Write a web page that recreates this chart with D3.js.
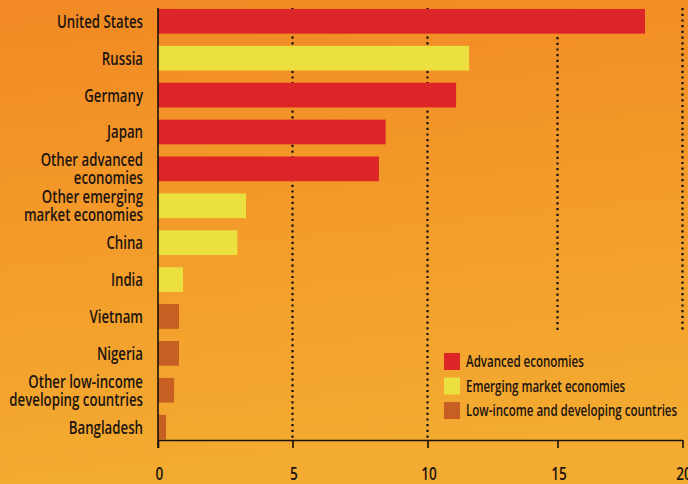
<!DOCTYPE html>
<html><head><meta charset="utf-8">
<script src="https://cdn.jsdelivr.net/npm/d3@7"></script>
<style>
html,body{margin:0;padding:0;background:#f29a2b;}
svg{display:block;}
text{font-family:"Open Sans","DejaVu Sans Condensed",sans-serif;font-weight:600;fill:#1c1410;}
</style></head>
<body>
<script>
const categories = ["United States","Russia","Germany","Japan","Other advanced\neconomies","Other emerging\nmarket economies","China","India","Vietnam","Nigeria","Other low-income\ndeveloping countries","Bangladesh"];
const values = [18.5, 11.6, 11.1, 8.45, 8.2, 3.27, 2.95, 0.93, 0.78, 0.78, 0.6, 0.3];
const groups = [0,1,0,0,0,1,1,1,2,2,2,2];
const groupNames = ["Advanced economies","Emerging market economies","Low-income and developing countries"];
const groupColors = ["#dd2427","#ebe03f","#c65f21"];
const xTicks = [0,5,10,15,20];

const W = 688, H = 484;
const svg = d3.select("body").append("svg").attr("width", W).attr("height", H);

// background
const defs = svg.append("defs");
const lg = defs.append("linearGradient").attr("id","bg").attr("x1",0).attr("y1",0).attr("x2",0.15).attr("y2",1);
lg.append("stop").attr("offset",0).attr("stop-color","#f18924");
lg.append("stop").attr("offset",0.5).attr("stop-color","#f39b2a");
lg.append("stop").attr("offset",1).attr("stop-color","#f3ab31");
svg.append("rect").attr("width",W).attr("height",H).attr("fill","url(#bg)");

const x = d3.scaleLinear().domain(xTicks).range([158, 292.5, 427.5, 557.5, 682.5]);
const y = d3.scaleBand().domain(d3.range(categories.length)).range([2.85, 445.6]).paddingInner(0.33).paddingOuter(0.165);

// measure helper for horizontal condensing
function measure(str, size){
  const t = svg.append("text").attr("font-size",size).text(str);
  const w = t.node().getComputedTextLength(); t.remove(); return w;
}
const labelSize = 18, tickSize = 18.5, legendSize = 16;
const sLab = 86 / measure("United States", labelSize);
const sLeg = 118 / measure("Advanced economies", legendSize);

// dotted grid lines
const gridSpec = [[5,8,440],[10,8,440],[15,37,331],[20,8,331]];
svg.append("g").selectAll("line").data(gridSpec).join("line")
  .attr("x1",d=>x(d[0])).attr("x2",d=>x(d[0]))
  .attr("y1",d=>d[1]).attr("y2",d=>d[2])
  .attr("stroke","#111").attr("stroke-width",2.2).attr("stroke-dasharray","2.2,3.5");

// bars
svg.append("g").selectAll("rect").data(values).join("rect")
  .attr("x", x(0)).attr("y",(d,i)=>y(i))
  .attr("width",d=>x(d)-x(0)).attr("height",y.bandwidth())
  .attr("fill",(d,i)=>groupColors[groups[i]]);

// category labels
const lab = svg.append("g").selectAll("g").data(categories).join("g")
  .attr("transform",(d,i)=>`translate(143,${y(i)+y.bandwidth()/2}) scale(${sLab},1)`);
lab.each(function(d){
  const lines = d.split("\n");
  const lh = 18;
  const t = d3.select(this).append("text").attr("text-anchor","end").attr("font-size",labelSize);
  lines.forEach((s,k)=>{
    t.append("tspan").attr("x",0).attr("y",(k-(lines.length-1)/2)*lh).attr("dy","0.36em").text(s);
  });
});

// axes
svg.append("line").attr("x1",x(0)).attr("x2",x(0)).attr("y1",8).attr("y2",448)
  .attr("stroke","#1a1208").attr("stroke-width",1.6);
const ax = svg.append("g").attr("transform","translate(0,440)")
  .call(d3.axisBottom(x).tickValues(xTicks).tickSize(8).tickSizeOuter(0).tickFormat(d=>""));
ax.select(".domain").attr("stroke","#1a1208").attr("stroke-width",1.6);
ax.selectAll(".tick line").attr("stroke","#1a1208").attr("stroke-width",1.6);
ax.selectAll(".tick").append("text")
  .attr("transform",`translate(1,39.5) scale(${sLab},1)`)
  .attr("text-anchor","middle").attr("font-size",tickSize).attr("fill","#1c1410")
  .text(d=>d3.format("d")(d));

// legend
const leg = svg.append("g").selectAll("g").data(groupNames).join("g")
  .attr("transform",(d,i)=>`translate(444,${353 + i*24.5})`);
leg.append("rect").attr("width",16).attr("height",17).attr("fill",(d,i)=>groupColors[i]);
leg.append("text").attr("transform",`translate(22,8.5) scale(${sLeg},1)`)
  .attr("dy","0.36em").attr("font-size",legendSize).text(d=>d);
</script>
</body></html>
